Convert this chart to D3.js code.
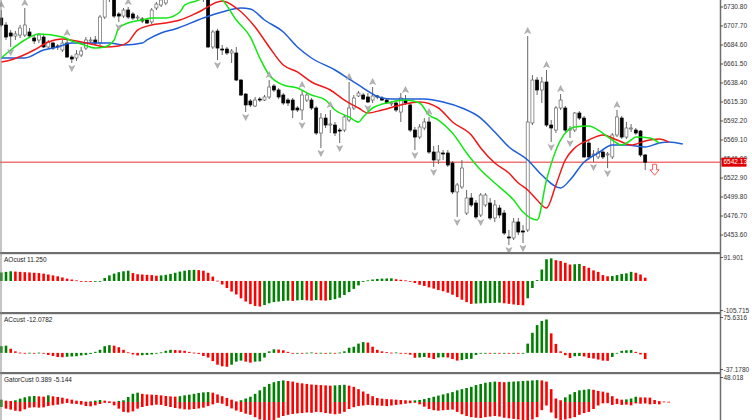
<!DOCTYPE html>
<html>
<head>
<meta charset="utf-8">
<style>
body { margin: 0; background: #fff; }
svg { display: block; font-family: "Liberation Sans", Arial, sans-serif; }
.axlbl { font-size: 6.5px; fill: #333; }
.name { font-size: 6.5px; fill: #222; }
</style>
</head>
<body>
<svg id="chart" width="752" height="420"></svg>
<script src="https://d3js.org/d3.v7.min.js"></script>
<script>

// price ticks on the right axis
var priceTicks = [6730.80, 6707.70, 6684.60, 6661.50, 6638.40, 6615.30, 6592.20,
                  6569.10, 6546.00, 6522.90, 6499.80, 6476.70, 6453.60];
var lastPrice = 6542.13;

// candles: open, high, low, close
var ohlc = [
 [6717.4,6727.1,6706.5,6708.9],[6708.9,6712.6,6690.7,6694.3],[6699.2,6702.8,6682.2,6695.5],[6695.5,6701.6,6690.7,6698.0],
 [6696.7,6708.9,6693.1,6705.3],[6696.7,6729.6,6694.3,6708.9],[6700.4,6705.3,6693.1,6695.5],[6693.1,6696.7,6685.8,6689.5],
 [6690.7,6699.2,6687.0,6696.7],[6694.3,6696.7,6680.9,6682.2],[6682.2,6690.7,6679.7,6688.2],[6687.0,6688.2,6678.5,6680.9],
 [6683.4,6685.8,6678.5,6682.2],[6678.5,6690.7,6676.1,6687.0],[6687.0,6693.1,6668.8,6670.0],[6670.0,6672.4,6662.7,6667.6],
 [6668.8,6678.5,6665.1,6673.6],[6672.4,6682.2,6670.0,6677.3],[6680.9,6694.3,6678.5,6690.7],[6689.5,6694.3,6687.0,6690.7],
 [6690.7,6695.5,6684.6,6687.0],[6687.0,6721.1,6684.6,6718.6],[6718.6,6745.4,6716.2,6741.7],[6741.7,6761.2,6736.9,6757.5],
 [6751.5,6753.9,6717.4,6719.8],[6722.3,6724.7,6712.6,6719.8],[6719.8,6729.6,6717.4,6727.1],[6727.1,6730.8,6716.2,6718.6],
 [6722.3,6724.7,6715.0,6717.4],[6717.4,6721.1,6715.0,6718.6],[6716.2,6718.6,6711.3,6713.8],[6715.0,6717.4,6710.1,6711.3],
 [6712.6,6729.6,6710.1,6727.1],[6729.6,6736.9,6727.1,6734.4],[6733.2,6741.7,6730.8,6739.3],[6735.7,6749.0,6733.2,6745.4],
 [6745.4,6756,6741,6752],[6752,6757,6744,6747],[6747,6762,6745,6759],[6759,6771,6755,6766],
 [6766,6769,6752,6756],[6756,6765,6750,6761],[6761,6764,6746,6749],[6740.5,6747,6736.9,6743.0],
 [6741.7,6745.4,6680.9,6682.2],[6682.2,6702.8,6679.7,6700.4],[6701.6,6704.1,6666.4,6680.9],[6679.7,6684.6,6672.4,6678.5],
 [6679.7,6682.2,6672.4,6674.9],[6674.9,6679.7,6662.7,6677.3],[6674.9,6682.2,6640.8,6642.0],[6642.0,6643.2,6622.6,6623.8],
 [6625.0,6626.2,6603.1,6611.7],[6616.5,6618.9,6609.2,6611.7],[6610.4,6621.4,6609.2,6617.7],[6618.9,6621.4,6615.3,6617.7],
 [6617.7,6623.8,6616.5,6621.4],[6621.4,6642.0,6618.9,6633.5],[6634.7,6637.2,6627.4,6629.9],[6629.9,6632.3,6618.9,6621.4],
 [6623.8,6626.2,6611.7,6614.1],[6617.7,6620.2,6610.4,6614.1],[6617.7,6620.2,6595.8,6605.6],[6608.0,6610.4,6603.1,6605.6],
 [6605.6,6629.9,6593.4,6623.8],[6617.7,6626.2,6615.3,6623.8],[6617.7,6620.2,6605.6,6608.0],[6608.0,6610.4,6575.2,6577.6],
 [6577.6,6601.9,6559.4,6595.8],[6595.8,6600.7,6583.7,6587.3],[6587.3,6605.6,6577.6,6588.5],[6587.3,6591.0,6574.0,6577.6],
 [6581.2,6583.7,6565.4,6580.0],[6581.2,6599.5,6578.8,6597.1],[6593.4,6639.6,6591.0,6608.0],[6608.0,6623.8,6605.6,6620.2],
 [6622.6,6628.7,6621.4,6626.2],[6623.8,6626.2,6617.7,6618.9],[6621.4,6626.2,6614.1,6615.3],[6617.7,6633.5,6614.1,6622.6],
 [6622.6,6623.8,6618.9,6621.4],[6620.2,6622.6,6616.5,6617.7],[6617.7,6620.2,6612.9,6614.1],[6612.9,6616.5,6610.4,6614.1],
 [6614.1,6617.7,6603.1,6605.6],[6603.1,6626.2,6591.0,6620.2],[6617.7,6623.8,6611.7,6614.1],[6611.7,6614.1,6578.8,6581.2],
 [6581.2,6584.9,6556.9,6572.7],[6572.7,6588.5,6570.3,6584.9],[6583.7,6595.8,6581.2,6591.0],[6591.0,6597.1,6552.1,6554.5],
 [6554.5,6561.8,6536.3,6544.8],[6544.8,6563.0,6539.9,6554.5],[6553.3,6556.9,6544.8,6552.1],[6553.3,6556.9,6536.3,6538.7],
 [6541.1,6543.6,6503.4,6505.9],[6505.9,6516.8,6475.5,6514.4],[6512.0,6544.8,6509.5,6535.0],[6480.3,6508.3,6477.9,6498.6],
 [6498.6,6504.6,6487.6,6490.1],[6492.5,6496.1,6473.0,6475.5],[6477.9,6504.6,6475.5,6502.2],[6490.1,6504.6,6487.6,6502.2],
 [6492.5,6498.6,6471.8,6474.3],[6474.3,6496.1,6469.4,6490.1],[6486.4,6490.1,6474.3,6477.9],[6480.3,6484.0,6453.6,6456.0],
 [6451.2,6459.7,6441.4,6450.0],[6450.0,6474.3,6447.5,6469.4],[6469.4,6474.3,6453.6,6457.2],[6458.5,6465.7,6443.9,6457.2],
 [6459.7,6695.5,6457.2,6591.0],[6589.8,6648.1,6587.3,6642.0],[6642.0,6645.7,6623.8,6629.9],[6629.9,6645.7,6614.1,6639.6],
 [6639.6,6654.2,6584.9,6587.3],[6587.3,6593.4,6566.7,6583.7],[6581.2,6610.4,6577.6,6608.0],[6608.0,6625.0,6605.6,6617.7],
 [6608.0,6610.4,6578.8,6581.2],[6581.2,6586.1,6571.5,6582.5],[6581.2,6603.1,6578.8,6601.9],[6601.9,6604.3,6593.4,6595.8],
 [6595.8,6598.3,6547.2,6548.5],[6565.4,6567.9,6544.8,6548.5],[6550.9,6556.9,6542.3,6552.1],[6548.5,6559.4,6546.0,6554.5],
 [6554.5,6556.9,6546.0,6548.5],[6550.9,6554.5,6535.0,6552.1],[6548.5,6577.6,6546.0,6575.2],[6575.2,6605.6,6572.7,6597.1],
 [6595.8,6598.3,6570.3,6572.7],[6572.7,6591.0,6570.3,6583.7],[6582.5,6588.5,6578.8,6583.7],[6581.2,6583.7,6575.2,6577.6],
 [6580.0,6581.2,6548.5,6550.9],[6550.9,6552.1,6532.6,6542.13]
];

// fractal bars
var fractalUp = [0,5,14,27,57,64,70,74,79,86,91,112,116,119,131];
var fractalDown = [2,15,25,46,52,64,68,72,78,88,92,97,102,108,111,117,121,126,129];

// sell signal arrow
var sellSignals = [[139, 6539.6]];

// alligator lines, [bar slot, price]
var jawPts = [[0,6668.8],[5,6668.8],[9,6678.5],[12,6682.2],[15,6687.0],[19,6687.0],[23,6687.0],[26,6684.6],
  [30,6687.0],[31,6690.7],[34,6699.2],[37,6704.1],[43,6717.4],[47,6724.7],[51,6729.6],[53,6728.4],
  [56,6715.0],[60,6700.4],[63,6682.2],[66,6668.8],[71,6654.2],[74,6643.2],[76,6636.0],[81,6620.2],
  [83,6618.9],[90,6618.9],[94,6615.3],[98,6608.0],[102,6595.8],[105,6578.8],[108,6560.6],[112,6544.8],
  [115,6526.5],[119,6510.7],[121,6520.5],[124,6542.3],[127,6553.3],[130,6563.0],[133,6563.0],[137,6560.6],
  [140,6565.4],[142,6566.7],[145,6564.2]];
var teethPts = [[0,6663.9],[2,6666.4],[7,6678.5],[10,6688.2],[13,6691.9],[17,6688.2],[20,6684.6],[22,6682.2],
  [25,6683.4],[27,6688.2],[29,6702.8],[32,6708.9],[35,6711.3],[38,6715.0],[42,6724.7],[47,6738.1],
  [50,6729.6],[54,6706.5],[57,6682.2],[60,6660.3],[63,6651.8],[66,6639.6],[70,6629.9],[73,6617.7],
  [76,6608.0],[78,6601.9],[81,6605.6],[85,6611.7],[89,6615.3],[93,6608.0],[96,6591.0],[100,6575.2],
  [102,6559.4],[105,6541.1],[108,6528.9],[110,6516.8],[112,6508.3],[114,6496.1],[116,6486.4],[118,6514.4],
  [120,6544.8],[122,6559.4],[125,6569.1],[128,6575.2],[131,6569.1],[134,6563.0],[137,6567.9],[140,6570.3],
  [142,6566.7]];
var lipsPts = [[0,6668.8],[2,6678.5],[5,6690.7],[8,6698.0],[13,6694.3],[15,6689.5],[17,6685.8],[20,6680.9],
  [22,6682.2],[24,6690.7],[25,6705.3],[27,6711.3],[30,6715.0],[32,6717.4],[35,6717.4],[38,6724.7],
  [39,6733.2],[42,6739.3],[44,6746.6],[47,6739.3],[50,6715.0],[53,6694.3],[55,6668.8],[57,6648.1],
  [60,6636.0],[63,6632.3],[66,6623.8],[69,6617.7],[71,6605.6],[74,6597.1],[76,6591.0],[77,6597.1],
  [79,6608.0],[83,6615.3],[86,6617.7],[89,6614.1],[91,6599.5],[93,6593.4],[96,6577.6],[99,6553.3],
  [102,6532.6],[105,6516.8],[109,6496.1],[111,6481.5],[114,6471.8],[116,6520.5],[119,6569.1],[122,6584.9],
  [125,6586.1],[127,6581.2],[130,6569.1],[132,6563.0],[134,6569.1],[135,6572.7],[138,6571.5],[140,6565.4]];

// AO histogram
var aoVals = [29,31,33,32,31,30,29,28,27,25, 22,19,16,12,8,5,2,0,-2,-3,
  -2,0,10,19,25,30,33,35,27,23, 22,21,20,18,19,21,24,28,32,35,
  37,38,37,35,28,15,1,-12,-24,-36, -46,-59,-70,-79,-85,-87,-82,-76,-72,-70,
  -68,-67,-68,-66,-65,-66,-67,-65,-66,-67, -65,-62,-57,-48,-38,-27,-15,-3,2,5,
  7,8,8.5,9,6,4,2,-1,-7,-13, -17,-22,-26,-31,-35,-40,-47,-55,-64,-72,
  -78,-77,-76,-75.5,-75,-74.5,-74,-76,-78,-80, -82,-83,-59,-24,3,39,74,77,71,68,
  62,56,57,58,51,45,36,31,20,16, 17,20,24,26,31,28,22,11.25];
var aoRange = [-105.715, 91.901];

// AC histogram
var acVals = [13,14,8,3,0.5,-0.5,0.3,-0.3,0.5,-1, -4,-6,-8,-8.5,-7.5,-7,-6.5,-5,-4,-2,
  2,6,13,15,14,11,6,1,-3,-5, -4.5,-4,-3,-1,1,4,6,5.5,5,4,
  2,0.5,-2,-6,-9,-16,-23,-26,-27,-23, -17,-15,-17,-19,-17,-16.5,-9,3,7,6.5,
  5,2,-0.5,0,-0.4,0.3,0.8,-0.3,0.2,-0.2, 0.3,-0.1,0.6,3,10,12,18,21,20,12,
  6,3,1.5,0.5,0.8,-0.5,-1.5,-3.5,-9.5,-9, -8,-9.5,-12,-9,-8.5,-9,-12,-15,-14,-12,
  -11.5,-4,-1,-0.5,-1,-0.5,-1,-0.5,-1.2,-0.8, -1,-0.3,18,39,54,62,65,38,17.5,3,
  -4.5,-10,-6.5,-6,-7,-10,-11,-13,-15,-15.5, -8,-0.5,4,5,5.5,2,-3,-12.0782];
var acRange = [-37.1780, 75.6316];

// Gator oscillator: upper |jaw-teeth|, lower |teeth-lips|
var gatorUp = [4,2.3,1.7,2.9,5.7,8,9.7,10.3,9.7,9.2, 11.4,9.7,8.6,7.4,5.7,4,2.3,1.7,0.6,1.1,
  2.3,3.4,2.3,1.1,0.6,1.7,2.9,8.6,14,16, 14,13,12.6,12.2,11.4,10.3,9.7,9.2,10,11.4,
  12.6,14,15.5,16.5,17,16,13,10,7,4, 1,3,6,9,14,20,26,31,34,36,
  37,36,35,33,32,31,30,29.5,29,28.5, 28,28.5,29,29.5,28,26,22,18,14,10,
  7,5.7,5,4.6,4,3.4,3,2.5,2.8,3.5, 5,7,9,11,13,15,17,20,22,24,
  26,29,31,33,34,35,34.5,34,34.5,35, 35.5,36,36.5,37,37.5,37,35,22,6,3,
  8,13,17,20,21,22,21,19,17.7,16, 10,5.7,4,4.5,6,9,8,7.8,7.4,3.4,1.5,0.8,0.5];
var gatorDown = [8.6,11.4,13,15,16,12.6,9.7,9,9.7,9.2, 6.9,5.7,4.6,2.9,1.7,2.9,3.4,4.6,6.9,7.4,
  5.7,3.4,1.1,1.7,5.7,11.4,17,18,16,11.4, 8.6,6.9,5.7,4.6,5,6.9,8.6,10.3,11.4,12.6,
  13,12,11,9.7,7,4,1.5,3,7,11, 14.6,17,20,22,26,30,33,34,31,27,
  24,22,20.5,19.5,19,18,18.5,17,17.5,19, 20,21,20,17,12,9,7,6,5,5.5,
  6,6.5,7,6,5,4,3,2,1,4, 8,12,14,15,14,13.5,13,17,21,24,
  26,27,27.5,26,25,24,25,27,28,29, 30,32,31,30,26,14,6,18,28,31,
  30,28,26,22,19,17,12,6,2.3,2, 5,3.4,5,4.5,5.7,2.3,3,2.5,4,3.5,4];
var gatorTop = 48.018;

var GREEN = "#008000", RED = "#ff0000";
var plotRight = 720;

var svg = d3.select("#chart");
var defs = svg.append("defs");
defs.append("clipPath").attr("id", "clipMain").append("rect")
  .attr("x", 0).attr("y", 0).attr("width", plotRight).attr("height", 252);
defs.append("clipPath").attr("id", "clipGator").append("rect")
  .attr("x", 0).attr("y", 374).attr("width", plotRight).attr("height", 46);

var x = d3.scaleLinear().domain([0, 137]).range([1.3, 645.2]);
var yMain = d3.scaleLinear().domain([6453.6, 6730.8]).range([235, 7]);
var yAO = d3.scaleLinear().domain(aoRange).range([312, 254]);
var yAC = d3.scaleLinear().domain(acRange).range([372, 314]);
var yGat = d3.scaleLinear().domain([0, gatorTop]).range([402, 374]);

// ---- main chart ----
var main = svg.append("g").attr("clip-path", "url(#clipMain)");

main.append("line")
  .attr("x1", 0).attr("x2", plotRight)
  .attr("y1", yMain(lastPrice)).attr("y2", yMain(lastPrice))
  .attr("stroke", "#e83030").attr("stroke-width", 1);

main.selectAll(".wick").data(ohlc).enter().append("line")
  .attr("x1", function(d, i) { return x(i); })
  .attr("x2", function(d, i) { return x(i); })
  .attr("y1", function(d) { return yMain(d[1]); })
  .attr("y2", function(d) { return yMain(d[2]); })
  .attr("stroke", "#666").attr("stroke-width", 1);

main.selectAll(".body").data(ohlc).enter().append("rect")
  .attr("x", function(d, i) { return x(i) - 1.5; })
  .attr("width", 3)
  .attr("y", function(d) { return yMain(Math.max(d[0], d[3])); })
  .attr("height", function(d) { return Math.max(0.8, Math.abs(yMain(d[0]) - yMain(d[3]))); })
  .attr("fill", function(d) { return d[3] >= d[0] ? "#fff" : "#000"; })
  .attr("stroke", function(d) { return d[3] >= d[0] ? "#666" : "#000"; })
  .attr("stroke-width", 0.7);

var line = d3.line()
  .x(function(d) { return x(d[0]); })
  .y(function(d) { return yMain(d[1]); })
  .curve(d3.curveMonotoneX);

[[jawPts, "#1e5ed8"], [teethPts, "#f01818"], [lipsPts, "#14e614"]].forEach(function(s) {
  main.append("path").datum(s[0])
    .attr("d", line).attr("fill", "none")
    .attr("stroke", s[1]).attr("stroke-width", 1.5);
});

main.selectAll(".fu").data(fractalUp).enter().append("path")
  .attr("transform", function(b) { return "translate(" + x(b) + "," + (yMain(ohlc[b][1]) - 5) + ")"; })
  .attr("d", "M0,-3.5L3,2.5L0,1L-3,2.5Z")
  .attr("fill", "#b4b4b4").attr("stroke", "#888").attr("stroke-width", 0.4);

main.selectAll(".fd").data(fractalDown).enter().append("path")
  .attr("transform", function(b) { return "translate(" + x(b) + "," + (yMain(ohlc[b][2]) + 5) + ")"; })
  .attr("d", "M0,3.5L3,-2.5L0,-1L-3,-2.5Z")
  .attr("fill", "#b4b4b4").attr("stroke", "#888").attr("stroke-width", 0.4);

main.selectAll(".sig").data(sellSignals).enter().append("path")
  .attr("transform", function(d) { return "translate(" + x(d[0]) + "," + yMain(d[1]) + ")"; })
  .attr("d", "M-2,0L2,0L2,5.5L4.5,5.5L0,11L-4.5,5.5L-2,5.5Z")
  .attr("fill", "#fff").attr("stroke", "#ff5a5a").attr("stroke-width", 1);

// ---- histograms ----
function histo(vals, ys, color) {
  var g = svg.append("g");
  g.selectAll("rect").data(vals).enter().append("rect")
    .attr("x", function(d, i) { return x(i) - 1.3; })
    .attr("width", 2.6)
    .attr("y", function(d) { return Math.min(ys(d), ys(0)); })
    .attr("height", function(d) { return Math.max(0.8, Math.abs(ys(d) - ys(0))); })
    .attr("fill", function(d, i) { return color(d, i); });
  return g;
}

function riseColor(vals) {
  return function(d, i) { return (i === 0 || d > vals[i - 1]) ? GREEN : RED; };
}

histo(aoVals, yAO, riseColor(aoVals));
histo(acVals, yAC, riseColor(acVals));
histo(gatorUp, yGat, riseColor(gatorUp)).attr("clip-path", "url(#clipGator)");
histo(gatorDown.map(function(v) { return -v; }), yGat, riseColor(gatorDown))
  .attr("clip-path", "url(#clipGator)");

// ---- frame ----
[253, 313, 373].forEach(function(yy) {
  svg.append("rect").attr("x", 0).attr("y", yy - 1).attr("width", plotRight).attr("height", 2.2)
    .attr("fill", "#6e6e6e");
});
svg.append("line").attr("x1", 1).attr("x2", 1).attr("y1", 0).attr("y2", 420)
  .attr("stroke", "#8a8a8a").attr("stroke-width", 1);
svg.append("line").attr("x1", plotRight + 0.5).attr("x2", plotRight + 0.5).attr("y1", 0).attr("y2", 420)
  .attr("stroke", "#6e6e6e").attr("stroke-width", 1.5);

// ---- right axis ----
var axis = svg.append("g");
axis.selectAll(".pt").data(priceTicks).enter().append("line")
  .attr("x1", plotRight).attr("x2", plotRight + 3)
  .attr("y1", function(d) { return yMain(d); }).attr("y2", function(d) { return yMain(d); })
  .attr("stroke", "#555");
axis.selectAll(".pl").data(priceTicks).enter().append("text")
  .attr("class", "axlbl")
  .attr("x", plotRight + 3.5).attr("y", function(d) { return yMain(d) + 2.3; })
  .text(function(d) { return d.toFixed(2); });

var subTicks = [
  [aoRange[1].toFixed(3), 257.5], [aoRange[0].toFixed(3), 310.5],
  [acRange[1].toFixed(4), 317.5], [acRange[0].toFixed(4), 369.5],
  [gatorTop.toFixed(3), 377.5]
];
axis.selectAll(".sl").data(subTicks).enter().append("text")
  .attr("class", "axlbl")
  .attr("x", plotRight + 3.5).attr("y", function(d) { return d[1] + 2.3; })
  .text(function(d) { return d[0]; });
axis.selectAll(".st").data(subTicks).enter().append("line")
  .attr("x1", plotRight).attr("x2", plotRight + 3)
  .attr("y1", function(d) { return d[1]; }).attr("y2", function(d) { return d[1]; })
  .attr("stroke", "#555");

var ly = yMain(lastPrice);
axis.append("rect").attr("x", plotRight + 1.5).attr("y", ly - 4.5)
  .attr("width", 25).attr("height", 9).attr("fill", "#e00000");
axis.append("text").attr("class", "axlbl").style("fill", "#fff")
  .attr("x", plotRight + 3.5).attr("y", ly + 2.3).text(lastPrice.toFixed(2));

// ---- indicator names ----
var names = [
  ["AOcust " + aoVals[aoVals.length - 1].toFixed(3), 261.5],
  ["ACcust " + acVals[acVals.length - 1].toFixed(4), 321.5],
  ["GatorCust 0.389 -5.144", 381.5]
];
svg.selectAll(".name").data(names).enter().append("text")
  .attr("class", "name").attr("x", 4).attr("y", function(d) { return d[1]; })
  .text(function(d) { return d[0]; });

</script>
</body>
</html>
